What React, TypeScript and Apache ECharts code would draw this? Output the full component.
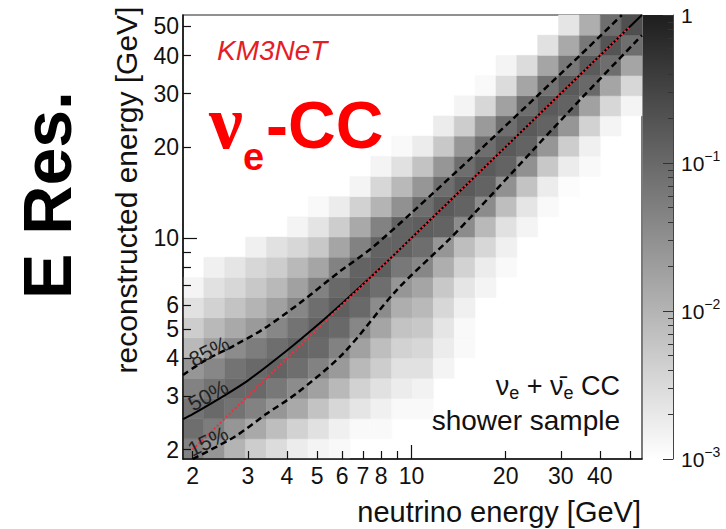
import React, { useEffect, useRef } from "react";
import * as echarts from "echarts";

// ---- binning of the 2D histogram (log-spaced bins, both axes) ----
const LOG_E_MIN = 0.27; // log10 of lowest bin edge [GeV]
const BINS_PER_DECADE = 15;
const N_BINS = 22;

// ---- histogram contents, one array per reconstructed-energy row (bottom -> top), columns = neutrino-energy bins ----
const row00 = [0.046, 0.025, 0.010, 0.0046, 0.0029, 0.0018, 0.0014, 0.0012, 0, 0, 0, 0, 0, 0, 0, 0, 0, 0, 0, 0, 0, 0];
const row01 = [0.086, 0.054, 0.025, 0.014, 0.0074, 0.0040, 0.0025, 0.0016, 0.0012, 0.0012, 0, 0, 0, 0, 0, 0, 0, 0, 0, 0, 0, 0];
const row02 = [0.074, 0.100, 0.074, 0.046, 0.025, 0.014, 0.0063, 0.0034, 0.0022, 0.0016, 0.0012, 0.0012, 0, 0, 0, 0, 0, 0, 0, 0, 0, 0];
const row03 = [0.046, 0.074, 0.100, 0.100, 0.063, 0.034, 0.018, 0.0086, 0.0040, 0.0025, 0.0018, 0.0015, 0, 0, 0, 0, 0, 0, 0, 0, 0, 0];
const row04 = [0.025, 0.040, 0.074, 0.100, 0.12, 0.086, 0.046, 0.022, 0.0086, 0.0046, 0.0025, 0.0025, 0.0014, 0, 0, 0, 0, 0, 0, 0, 0, 0];
const row05 = [0.0086, 0.018, 0.034, 0.054, 0.086, 0.12, 0.10, 0.046, 0.018, 0.0074, 0.0040, 0.0034, 0.0018, 0.0012, 0, 0, 0, 0, 0, 0, 0, 0];
const row06 = [0.0046, 0.0086, 0.014, 0.022, 0.040, 0.074, 0.12, 0.10, 0.040, 0.016, 0.0063, 0.0054, 0.0022, 0.0012, 0, 0, 0, 0, 0, 0, 0, 0];
const row07 = [0.0025, 0.0040, 0.0063, 0.010, 0.018, 0.040, 0.086, 0.14, 0.10, 0.034, 0.012, 0.0086, 0.0034, 0.0016, 0, 0, 0, 0, 0, 0, 0, 0];
const row08 = [0.0014, 0.0025, 0.0034, 0.0054, 0.0086, 0.018, 0.046, 0.10, 0.14, 0.086, 0.025, 0.016, 0.0054, 0.0022, 0.0014, 0, 0, 0, 0, 0, 0, 0];
const row09 = [0, 0.0016, 0.0022, 0.0034, 0.0046, 0.0086, 0.016, 0.046, 0.12, 0.14, 0.063, 0.040, 0.012, 0.0040, 0.0018, 0.0012, 0, 0, 0, 0, 0, 0];
const row10 = [0, 0, 0, 0.0016, 0.0025, 0.0034, 0.0054, 0.016, 0.046, 0.12, 0.12, 0.086, 0.025, 0.0074, 0.0034, 0.0016, 0, 0, 0, 0, 0, 0];
const row11 = [0, 0, 0, 0, 0, 0.0014, 0.0023, 0.0046, 0.014, 0.046, 0.12, 0.14, 0.12, 0.034, 0.0086, 0.0025, 0.0014, 0, 0, 0, 0, 0];
const row12 = [0, 0, 0, 0, 0, 0, 0.0012, 0.0018, 0.0040, 0.010, 0.029, 0.086, 0.16, 0.12, 0.034, 0.0074, 0.0022, 0.0012, 0, 0, 0, 0];
const row13 = [0, 0, 0, 0, 0, 0, 0, 0, 0.0014, 0.0034, 0.0086, 0.025, 0.086, 0.16, 0.12, 0.029, 0.0063, 0.0018, 0.0011, 0, 0, 0];
const row14 = [0, 0, 0, 0, 0, 0, 0, 0, 0, 0.0014, 0.0025, 0.0063, 0.025, 0.086, 0.16, 0.12, 0.029, 0.0054, 0.0018, 0.0012, 0, 0];
const row15 = [0, 0, 0, 0, 0, 0, 0, 0, 0, 0, 0.0012, 0.0018, 0.0054, 0.025, 0.086, 0.16, 0.12, 0.025, 0.0046, 0.0016, 0, 0];
const row16 = [0, 0, 0, 0, 0, 0, 0, 0, 0, 0, 0, 0, 0.0018, 0.0046, 0.022, 0.086, 0.16, 0.12, 0.025, 0.0040, 0.0014, 0];
const row17 = [0, 0, 0, 0, 0, 0, 0, 0, 0, 0, 0, 0, 0, 0.0014, 0.0034, 0.018, 0.086, 0.16, 0.12, 0.018, 0.0034, 0.0014];
const row18 = [0, 0, 0, 0, 0, 0, 0, 0, 0, 0, 0, 0, 0, 0, 0.0012, 0.0029, 0.016, 0.074, 0.16, 0.10, 0.016, 0.0034];
const row19 = [0, 0, 0, 0, 0, 0, 0, 0, 0, 0, 0, 0, 0, 0, 0, 0.0014, 0.0029, 0.016, 0.063, 0.16, 0.086, 0.016];
const row20 = [0, 0, 0, 0, 0, 0, 0, 0, 0, 0, 0, 0, 0, 0, 0, 0, 0, 0.0025, 0.014, 0.063, 0.19, 0.086];
const row21 = [0, 0, 0, 0, 0, 0, 0, 0, 0, 0, 0, 0, 0, 0, 0, 0, 0, 0, 0.0022, 0.012, 0.086, 0.22];

// ---- quantile curves [neutrino energy, reconstructed energy] ----
const median50 = [[1.862, 2.52], [2, 2.62], [2.5, 3.0], [3, 3.38], [4, 4.25], [5, 5.15], [6, 6.08], [7, 7.03], [8, 8.0], [10, 10], [20, 20], [30, 30], [54.5, 54.5]];
const upper85 = [[1.862, 3.53], [2.2, 3.95], [2.73, 4.43], [3.36, 5.0], [4.4, 6.1], [5.9, 7.75], [7.4, 9.2], [10, 12.1], [16.5, 19.5], [25, 29.2], [35, 40.6], [47, 54.5]];
const lower15 = [[2.0, 1.862], [2.73, 2.21], [3.45, 2.63], [4.3, 3.07], [6.06, 4.16], [8.97, 6.73], [13.2, 9.9], [15.8, 12.0], [25, 20.0], [35, 29.0], [54.5, 46.7]];
const diagonal = [[2, 2], [50, 50]];

// ---- axis ticks and labels ----
const xTickValues = [2, 3, 4, 5, 6, 7, 8, 9, 20, 30, 40, 50];
const xLabelValues = [2, 3, 4, 5, 6, 7, 8, 10, 20, 30, 40];
const yTickValues = [2, 3, 4, 5, 6, 7, 8, 9, 20, 30, 40, 50];
const yLabelValues = [2, 3, 4, 5, 6, 10, 20, 30, 40, 50];
const decadeTicks = [10];
const zMin = 0.001;
const zMax = 1;
const zLabelValues = [0.001, 0.01, 0.1, 1];
const zMinorMultipliers = [2, 3, 4, 5, 6, 7, 8, 9];

const FONT = '"Liberation Sans", Arial, Helvetica, sans-serif';
const SERIF = '"Liberation Serif", "Times New Roman", serif';
const rows = [row00, row01, row02, row03, row04, row05, row06, row07, row08, row09, row10, row11, row12, row13, row14, row15, row16, row17, row18, row19, row20, row21];
const binEdges = Array.from({ length: N_BINS + 1 }, (_, k) => Math.pow(10, LOG_E_MIN + k / BINS_PER_DECADE));
const E_MIN = binEdges[0];
const E_MAX = binEdges[N_BINS];
const LOG_E_MAX = Math.log10(E_MAX);

const GRAY_DARK = 30;
function grayFor(v: number): string {
  const t = Math.min(1, Math.max(0, (Math.log10(v) - Math.log10(zMin)) / (Math.log10(zMax) - Math.log10(zMin))));
  const g = Math.round(255 - t * (255 - GRAY_DARK));
  return `rgb(${g},${g},${g})`;
}

const cells: number[][] = [];
rows.forEach((row, j) => {
  row.forEach((v, i) => {
    if (v > 0) {
      cells.push([Math.sqrt(binEdges[i] * binEdges[i + 1]), Math.sqrt(binEdges[j] * binEdges[j + 1]), v, i, j]);
    }
  });
});

const zMinorTicks: number[] = [];
[0.001, 0.01, 0.1].forEach((d) => zMinorMultipliers.forEach((m) => zMinorTicks.push(d * m)));

const lg = (v: number) => Math.log10(v);
const axisColor = "#111";

function buildOption(): any {
  const tickAxisCommon = {
    type: "value",
    gridIndex: 0,
    z: 5,
    splitLine: { show: false },
  };
  const curveBase = { type: "line", xAxisIndex: 0, yAxisIndex: 0, z: 6, showSymbol: false, smooth: 0.3 };
  const energyLabel = (v: number) => String(Math.round(Math.pow(10, v)));
  return {
    animation: false,
    backgroundColor: "#fff",
    grid: [
      { left: 183, top: 15, width: 459, height: 444, show: true, borderColor: "#222", borderWidth: 1.2, backgroundColor: "transparent", containLabel: false, outerBoundsMode: "none" },
      { left: 643, top: 15, width: 30, height: 444, show: false, containLabel: false, outerBoundsMode: "none" },
    ],
    xAxis: [
      { type: "log", gridIndex: 0, min: E_MIN, max: E_MAX, show: false },
      {
        ...tickAxisCommon,
        position: "bottom",
        min: LOG_E_MIN,
        max: LOG_E_MAX,
        axisLine: { show: true, onZero: false, lineStyle: { color: axisColor, width: 1.5 } },
        axisTick: { show: true, inside: true, length: 8, customValues: xTickValues.map(lg), lineStyle: { color: axisColor, width: 1.2 } },
        axisLabel: { show: true, customValues: xLabelValues.map(lg), formatter: energyLabel, fontSize: 23, lineHeight: 22, fontFamily: FONT, color: axisColor, margin: 6 },
      },
      {
        ...tickAxisCommon,
        position: "bottom",
        min: LOG_E_MIN,
        max: LOG_E_MAX,
        axisLine: { show: false, onZero: false },
        axisTick: { show: true, inside: true, length: 14, customValues: decadeTicks.map(lg), lineStyle: { color: axisColor, width: 1.2 } },
        axisLabel: { show: false },
      },
      { type: "value", gridIndex: 1, min: 0, max: 1, show: false },
    ],
    yAxis: [
      { type: "log", gridIndex: 0, min: E_MIN, max: E_MAX, show: false },
      {
        ...tickAxisCommon,
        position: "left",
        min: LOG_E_MIN,
        max: LOG_E_MAX,
        axisLine: { show: true, onZero: false, lineStyle: { color: axisColor, width: 1.5 } },
        axisTick: { show: true, inside: true, length: 8, customValues: yTickValues.map(lg), lineStyle: { color: axisColor, width: 1.2 } },
        axisLabel: { show: true, customValues: yLabelValues.map(lg), formatter: energyLabel, fontSize: 23, lineHeight: 20, fontFamily: FONT, color: axisColor, margin: 4 },
      },
      {
        ...tickAxisCommon,
        position: "left",
        min: LOG_E_MIN,
        max: LOG_E_MAX,
        axisLine: { show: false, onZero: false },
        axisTick: { show: true, inside: true, length: 14, customValues: decadeTicks.map(lg), lineStyle: { color: axisColor, width: 1.2 } },
        axisLabel: { show: false },
      },
      { type: "log", gridIndex: 1, min: zMin, max: zMax, show: false },
      {
        type: "value",
        gridIndex: 1,
        position: "right",
        min: lg(zMin),
        max: lg(zMax),
        z: 5,
        splitLine: { show: false },
        axisLine: { show: true, onZero: false, lineStyle: { color: "#444", width: 1 } },
        axisTick: { show: true, inside: true, length: 5, customValues: zMinorTicks.map(lg), lineStyle: { color: "#333", width: 1 } },
        axisLabel: { show: false },
      },
      {
        type: "value",
        gridIndex: 1,
        position: "right",
        min: lg(zMin),
        max: lg(zMax),
        z: 5,
        splitLine: { show: false },
        axisLine: { show: false, onZero: false },
        axisTick: { show: true, inside: true, length: 10, customValues: zLabelValues.map(lg), lineStyle: { color: "#333", width: 1 } },
        axisLabel: {
          show: true,
          customValues: zLabelValues.map(lg),
          margin: 8,
          formatter: (v: number) => {
            const e = Math.round(v);
            return e === 0 ? "{b|1}" : `{b|10}{s|\u2212${-e}}`;
          },
          rich: {
            b: { fontSize: 21, fontFamily: FONT, color: axisColor, lineHeight: 28 },
            s: { fontSize: 14, fontFamily: FONT, color: axisColor, lineHeight: 12, verticalAlign: "top" },
          },
        },
      },
    ],
    series: [
      {
        type: "custom",
        name: "histogram",
        xAxisIndex: 0,
        yAxisIndex: 0,
        z: 2,
        encode: { x: 0, y: 1 },
        data: cells,
        renderItem: (params: any, api: any) => {
          const i = api.value(3);
          const j = api.value(4);
          const p0 = api.coord([binEdges[i], binEdges[j + 1]]);
          const p1 = api.coord([binEdges[i + 1], binEdges[j]]);
          const c = grayFor(api.value(2));
          return {
            type: "rect",
            shape: { x: p0[0], y: p0[1], width: p1[0] - p0[0], height: p1[1] - p0[1] },
            style: { fill: c, stroke: c, lineWidth: 0.5 },
          };
        },
      },
      { ...curveBase, name: "50%", data: median50, lineStyle: { color: "#000", width: 2 } },
      { ...curveBase, name: "85%", data: upper85, lineStyle: { color: "#000", width: 2.5, type: [6.5, 4] } },
      { ...curveBase, name: "15%", data: lower15, lineStyle: { color: "#000", width: 2.5, type: [6.5, 4] } },
      {
        type: "line",
        name: "diagonal",
        xAxisIndex: 0,
        yAxisIndex: 0,
        z: 7,
        data: diagonal,
        showSymbol: false,
        lineStyle: { color: "#f0303c", width: 2.2, type: [2, 2.2] },
      },
      {
        type: "custom",
        name: "colorbar",
        xAxisIndex: 3,
        yAxisIndex: 3,
        z: 2,
        encode: { x: 0, y: 1 },
        data: [[0.5, 0.03]],
        renderItem: (params: any, api: any) => {
          const p0 = api.coord([0, zMax]);
          const p1 = api.coord([1, zMin]);
          return {
            type: "rect",
            shape: { x: p0[0], y: p0[1], width: p1[0] - p0[0], height: p1[1] - p0[1] },
            style: {
              fill: new echarts.graphic.LinearGradient(0, 0, 0, 1, [
                { offset: 0, color: grayFor(zMax) },
                { offset: 1, color: grayFor(zMin) },
              ]),
            },
          };
        },
      },
    ],
    graphic: [
      {
        type: "text",
        x: 47,
        y: 195,
        rotation: Math.PI / 2,
        style: { text: "E Res.", font: `bold 68px ${FONT}`, fill: "#000", align: "center", verticalAlign: "middle" },
      },
      {
        type: "text",
        x: 126,
        y: 190,
        rotation: Math.PI / 2,
        style: { text: "reconstructed energy [GeV]", font: `30px ${FONT}`, fill: "#111", align: "center", verticalAlign: "middle" },
      },
      {
        type: "text",
        x: 641,
        y: 512,
        style: { text: "neutrino energy [GeV]", font: `29px ${FONT}`, fill: "#111", align: "right", verticalAlign: "middle" },
      },
      {
        type: "text",
        x: 217,
        y: 50,
        style: { text: "KM3NeT", font: `italic 28px ${FONT}`, fill: "#e41e26", align: "left", verticalAlign: "middle" },
      },
      {
        type: "text",
        x: 209,
        y: 130,
        style: {
          text: "{nu|ν}{sub|e}{cc|-CC}",
          align: "left",
          verticalAlign: "middle",
          rich: {
            nu: { fontSize: 76, fontWeight: "bold", fontFamily: SERIF, fill: "#ff0000", lineHeight: 76, verticalAlign: "top" },
            sub: { fontSize: 38, fontWeight: "bold", fontFamily: FONT, fill: "#ff0000", lineHeight: 92, verticalAlign: "top", padding: [54, 2, 0, 0] },
            cc: { fontSize: 66, fontWeight: "bold", fontFamily: FONT, fill: "#ff0000", lineHeight: 80, verticalAlign: "top", padding: [8, 0, 0, 0] },
          },
        },
      },
      {
        type: "text",
        x: 620,
        y: 387,
        style: {
          text: "{a|ν}{s|e}{a| + ν̄}{s|e}{a| CC}",
          align: "right",
          verticalAlign: "middle",
          rich: {
            a: { fontSize: 27, fontFamily: FONT, fill: "#111", lineHeight: 29, verticalAlign: "top" },
            s: { fontSize: 18, fontFamily: FONT, fill: "#111", lineHeight: 29, verticalAlign: "top", padding: [11, 0, 0, 0] },
          },
        },
      },
      {
        type: "text",
        x: 620,
        y: 420,
        style: { text: "shower sample", font: `28px ${FONT}`, fill: "#111", align: "right", verticalAlign: "middle" },
      },
      {
        type: "text",
        x: 209,
        y: 351,
        rotation: 0.47,
        z: 10,
        style: { text: "85%", font: `21px ${FONT}`, fill: "#222", align: "center", verticalAlign: "middle" },
      },
      {
        type: "text",
        x: 208,
        y: 395,
        rotation: 0.5,
        z: 10,
        style: { text: "50%", font: `21px ${FONT}`, fill: "#222", align: "center", verticalAlign: "middle" },
      },
      {
        type: "text",
        x: 208,
        y: 441,
        rotation: 0.45,
        z: 10,
        style: { text: "15%", font: `21px ${FONT}`, fill: "#222", align: "center", verticalAlign: "middle" },
      },
    ],
  };
}

export default function App() {
  const ref = useRef<HTMLDivElement>(null);
  useEffect(() => {
    if (!ref.current) return;
    const chart = echarts.init(ref.current, null, { renderer: "svg" });
    chart.setOption(buildOption());
    return () => {
      chart.dispose();
    };
  }, []);
  return (
    <div
      ref={ref}
      style={{ position: "fixed", left: 0, top: 0, width: 726, height: 529, background: "#fff" }}
    />
  );
}
